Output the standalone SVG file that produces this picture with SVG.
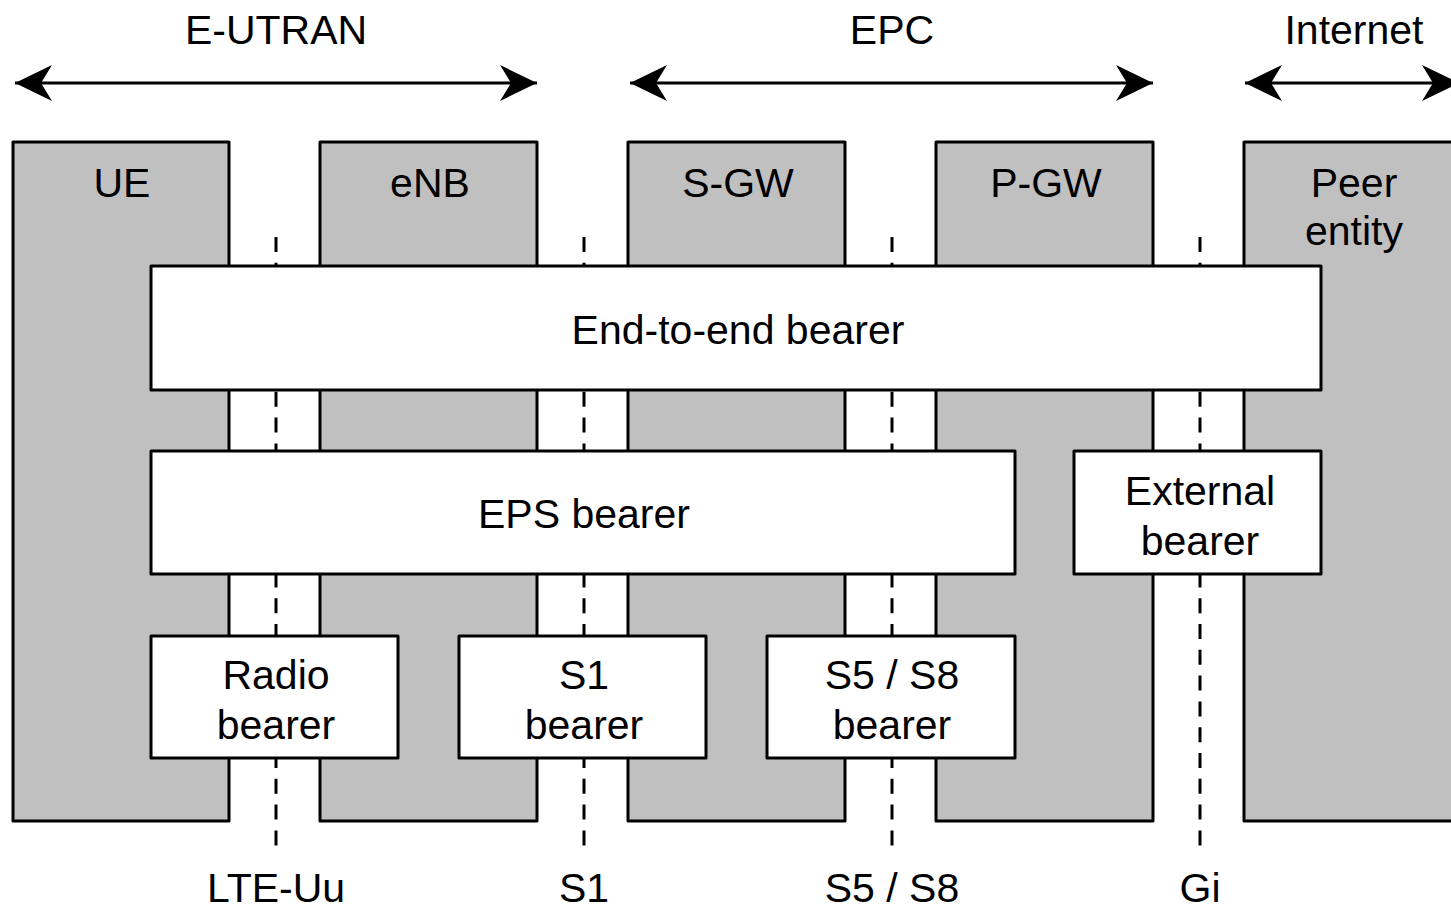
<svg xmlns="http://www.w3.org/2000/svg" width="1451" height="909" viewBox="0 0 1451 909">
<defs>
<style>
text{font-family:"Liberation Sans",Arial,sans-serif;font-size:41px;fill:#000;text-anchor:middle}
.ent{fill:#c0c0c0;stroke:#000;stroke-width:3;stroke-linejoin:round}
.bear{fill:#fff;stroke:#000;stroke-width:3;stroke-linejoin:round}
.dash{stroke:#000;stroke-width:3;stroke-dasharray:15 10.8;fill:none}
.arr{stroke:#000;stroke-width:3;fill:none}
</style>
<marker id="ah" markerUnits="userSpaceOnUse" markerWidth="40" markerHeight="40" viewBox="-38 -20 40 40" refX="0" refY="0" orient="auto-start-reverse">
<path d="M0,0 L-37,-18 L-26,0 L-37,18 Z" fill="#000"/>
</marker>
</defs>
<g id="domains">
<text x="276" y="44">E-UTRAN</text>
<text x="892" y="44">EPC</text>
<text x="1354" y="44">Internet</text>
</g>
<g id="UE"><rect class="ent" x="13" y="142" width="216" height="679"/><text x="122" y="197">UE</text></g>
<g id="eNB"><rect class="ent" x="320" y="142" width="217" height="679"/><text x="430" y="197">eNB</text></g>
<g id="S-GW"><rect class="ent" x="628" y="142" width="217" height="679"/><text x="738" y="197">S-GW</text></g>
<g id="P-GW"><rect class="ent" x="936" y="142" width="217" height="679"/><text x="1046" y="197">P-GW</text></g>
<g id="Peer"><rect class="ent" x="1244" y="142" width="220" height="679"/><text x="1354" y="197">Peer</text><text x="1354" y="245">entity</text></g>
<g id="connectors">
<line class="arr" x1="15" y1="83" x2="537" y2="83" marker-start="url(#ah)" marker-end="url(#ah)"/>
<line class="arr" x1="630" y1="83" x2="1153" y2="83" marker-start="url(#ah)" marker-end="url(#ah)"/>
<line class="arr" x1="1245" y1="83" x2="1459" y2="83" marker-start="url(#ah)" marker-end="url(#ah)"/>
<line class="dash" x1="276" y1="237" x2="276" y2="846"/>
<line class="dash" x1="584" y1="237" x2="584" y2="846"/>
<line class="dash" x1="892" y1="237" x2="892" y2="846"/>
<line class="dash" x1="1200" y1="237" x2="1200" y2="846"/>
</g>
<g id="e2e"><rect class="bear" x="151" y="266" width="1170" height="124"/><text x="738" y="344">End-to-end bearer</text></g>
<g id="eps"><rect class="bear" x="151" y="451" width="864" height="123"/><text x="584" y="528">EPS bearer</text></g>
<g id="ext"><rect class="bear" x="1074" y="451" width="247" height="123"/><text x="1200" y="505">External</text><text x="1200" y="555">bearer</text></g>
<g id="radio"><rect class="bear" x="151" y="636" width="247" height="122"/><text x="276" y="689">Radio</text><text x="276" y="739">bearer</text></g>
<g id="s1b"><rect class="bear" x="459" y="636" width="247" height="122"/><text x="584" y="689">S1</text><text x="584" y="739">bearer</text></g>
<g id="s5b"><rect class="bear" x="767" y="636" width="248" height="122"/><text x="892" y="689">S5 / S8</text><text x="892" y="739">bearer</text></g>
<g id="ifaces">
<text x="276" y="902">LTE-Uu</text>
<text x="584" y="902">S1</text>
<text x="892" y="902">S5 / S8</text>
<text x="1200" y="902">Gi</text>
</g>
</svg>
